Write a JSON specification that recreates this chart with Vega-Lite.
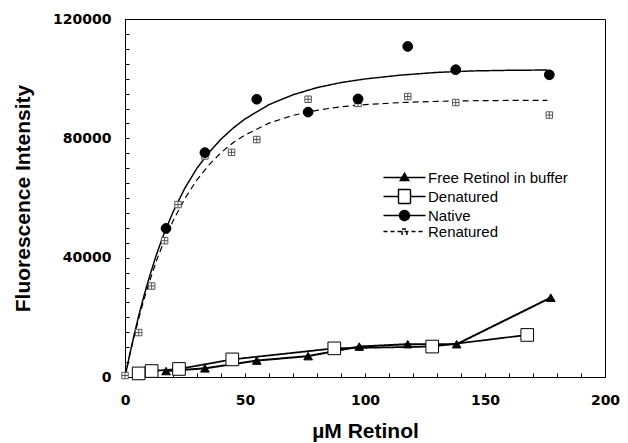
{
  "$schema": "https://vega.github.io/schema/vega-lite/v6.json",
  "width": 480,
  "height": 358,
  "autosize": "none",
  "padding": {"left": 125, "top": 19, "right": 23, "bottom": 66},
  "background": "white",
  "config": {
    "font": "Liberation Sans",
    "view": {"stroke": "black", "strokeWidth": 1},
    "axis": {"domainColor": "black", "tickColor": "black", "labelColor": "black", "titleColor": "black", "grid": false}
  },
  "datasets": {
    "d": [
      {"s": "Native", "role": "pt", "x": 17.1, "y": 49800},
      {"s": "Native", "role": "pt", "x": 33.3, "y": 75200},
      {"s": "Native", "role": "pt", "x": 54.9, "y": 93100},
      {"s": "Native", "role": "pt", "x": 76.3, "y": 88800},
      {"s": "Native", "role": "pt", "x": 97.1, "y": 93200},
      {"s": "Native", "role": "pt", "x": 117.8, "y": 110800},
      {"s": "Native", "role": "pt", "x": 137.8, "y": 103000},
      {"s": "Native", "role": "pt", "x": 176.8, "y": 101300},
      {"s": "Renatured", "role": "pt", "x": 0, "y": 500},
      {"s": "Renatured", "role": "pt", "x": 5.7, "y": 14900},
      {"s": "Renatured", "role": "pt", "x": 11.1, "y": 30500},
      {"s": "Renatured", "role": "pt", "x": 16.5, "y": 45700},
      {"s": "Renatured", "role": "pt", "x": 22.1, "y": 57800},
      {"s": "Renatured", "role": "pt", "x": 33.3, "y": 74100},
      {"s": "Renatured", "role": "pt", "x": 44.4, "y": 75300},
      {"s": "Renatured", "role": "pt", "x": 54.9, "y": 79600},
      {"s": "Renatured", "role": "pt", "x": 76.3, "y": 93100},
      {"s": "Renatured", "role": "pt", "x": 97.1, "y": 91700},
      {"s": "Renatured", "role": "pt", "x": 117.8, "y": 94000},
      {"s": "Renatured", "role": "pt", "x": 137.8, "y": 92000},
      {"s": "Renatured", "role": "pt", "x": 176.8, "y": 87800},
      {"s": "Free Retinol in buffer", "role": "both", "x": 17.1, "y": 2000},
      {"s": "Free Retinol in buffer", "role": "both", "x": 33.3, "y": 2900},
      {"s": "Free Retinol in buffer", "role": "both", "x": 54.9, "y": 5500},
      {"s": "Free Retinol in buffer", "role": "both", "x": 76.3, "y": 7000},
      {"s": "Free Retinol in buffer", "role": "both", "x": 97.6, "y": 10200},
      {"s": "Free Retinol in buffer", "role": "both", "x": 117.8, "y": 11000},
      {"s": "Free Retinol in buffer", "role": "both", "x": 138.2, "y": 11000},
      {"s": "Free Retinol in buffer", "role": "both", "x": 177.4, "y": 26600},
      {"s": "Denatured", "role": "both", "x": 5.7, "y": 1200},
      {"s": "Denatured", "role": "both", "x": 11.1, "y": 2000},
      {"s": "Denatured", "role": "both", "x": 22.5, "y": 2700},
      {"s": "Denatured", "role": "both", "x": 44.7, "y": 5900},
      {"s": "Denatured", "role": "both", "x": 87.2, "y": 9600},
      {"s": "Denatured", "role": "both", "x": 128, "y": 10200},
      {"s": "Denatured", "role": "both", "x": 167.6, "y": 14100},
      {"s": "Native", "role": "line", "x": 0, "y": 0},
      {"s": "Native", "role": "line", "x": 2, "y": 7700},
      {"s": "Native", "role": "line", "x": 4, "y": 14800},
      {"s": "Native", "role": "line", "x": 6, "y": 21400},
      {"s": "Native", "role": "line", "x": 8, "y": 27500},
      {"s": "Native", "role": "line", "x": 10, "y": 33100},
      {"s": "Native", "role": "line", "x": 13, "y": 40800},
      {"s": "Native", "role": "line", "x": 16, "y": 47500},
      {"s": "Native", "role": "line", "x": 20, "y": 55300},
      {"s": "Native", "role": "line", "x": 25, "y": 63400},
      {"s": "Native", "role": "line", "x": 30, "y": 70000},
      {"s": "Native", "role": "line", "x": 35, "y": 75300},
      {"s": "Native", "role": "line", "x": 40, "y": 79700},
      {"s": "Native", "role": "line", "x": 45, "y": 83400},
      {"s": "Native", "role": "line", "x": 50, "y": 86500},
      {"s": "Native", "role": "line", "x": 60, "y": 91300},
      {"s": "Native", "role": "line", "x": 70, "y": 94600},
      {"s": "Native", "role": "line", "x": 80, "y": 97000},
      {"s": "Native", "role": "line", "x": 90, "y": 98700},
      {"s": "Native", "role": "line", "x": 100, "y": 99900},
      {"s": "Native", "role": "line", "x": 115, "y": 101200},
      {"s": "Native", "role": "line", "x": 130, "y": 102100},
      {"s": "Native", "role": "line", "x": 145, "y": 102600},
      {"s": "Native", "role": "line", "x": 160, "y": 102800},
      {"s": "Native", "role": "line", "x": 176, "y": 102900},
      {"s": "Renatured", "role": "line", "x": 0, "y": 0},
      {"s": "Renatured", "role": "line", "x": 2, "y": 7400},
      {"s": "Renatured", "role": "line", "x": 4, "y": 14200},
      {"s": "Renatured", "role": "line", "x": 6, "y": 20400},
      {"s": "Renatured", "role": "line", "x": 8, "y": 26200},
      {"s": "Renatured", "role": "line", "x": 10, "y": 31500},
      {"s": "Renatured", "role": "line", "x": 13, "y": 38700},
      {"s": "Renatured", "role": "line", "x": 16, "y": 45000},
      {"s": "Renatured", "role": "line", "x": 20, "y": 52300},
      {"s": "Renatured", "role": "line", "x": 25, "y": 59900},
      {"s": "Renatured", "role": "line", "x": 30, "y": 66100},
      {"s": "Renatured", "role": "line", "x": 35, "y": 71100},
      {"s": "Renatured", "role": "line", "x": 40, "y": 75200},
      {"s": "Renatured", "role": "line", "x": 45, "y": 78500},
      {"s": "Renatured", "role": "line", "x": 50, "y": 81100},
      {"s": "Renatured", "role": "line", "x": 60, "y": 85100},
      {"s": "Renatured", "role": "line", "x": 70, "y": 87700},
      {"s": "Renatured", "role": "line", "x": 80, "y": 89400},
      {"s": "Renatured", "role": "line", "x": 90, "y": 90600},
      {"s": "Renatured", "role": "line", "x": 100, "y": 91300},
      {"s": "Renatured", "role": "line", "x": 115, "y": 92000},
      {"s": "Renatured", "role": "line", "x": 130, "y": 92400},
      {"s": "Renatured", "role": "line", "x": 145, "y": 92600},
      {"s": "Renatured", "role": "line", "x": 160, "y": 92700},
      {"s": "Renatured", "role": "line", "x": 176, "y": 92700}
    ],
    "legend": [
      {"s": "Free Retinol in buffer"},
      {"s": "Denatured"},
      {"s": "Native"},
      {"s": "Renatured"}
    ]
  },
  "encoding": {
    "x": {"field": "x", "type": "quantitative", "scale": {"domain": [0, 200], "nice": false},
      "axis": {"values": [0,10,20,30,40,50,60,70,80,90,100,110,120,130,140,150,160,170,180,190,200],
        "labelExpr": "datum.value % 50 === 0 ? datum.label : ''",
        "tickSize": -4, "labelPadding": 20, "labelFont": "DejaVu Sans", "labelFontWeight": "bold", "labelFontSize": 14,
        "labelFlush": false, "labelOverlap": false,
        "title": "µM Retinol", "titleFont": "Liberation Sans", "titleFontWeight": "bold", "titleFontSize": 21, "titlePadding": 13}},
    "y": {"field": "y", "type": "quantitative", "scale": {"domain": [0, 120000], "nice": false},
      "axis": {"values": [0,5000,10000,15000,20000,25000,30000,35000,40000,45000,50000,55000,60000,65000,70000,75000,80000,85000,90000,95000,100000,105000,110000,115000,120000],
        "format": "d",
        "labelExpr": "datum.value % 40000 === 0 ? datum.label : ''",
        "tickSize": -4, "labelPadding": 18, "labelFont": "DejaVu Sans", "labelFontWeight": "bold", "labelFontSize": 14,
        "labelFlush": false, "labelOverlap": false,
        "title": "Fluorescence Intensity", "titleFont": "Liberation Sans", "titleFontWeight": "bold", "titleFontSize": 21, "titlePadding": 19}}
  },
  "resolve": {"scale": {"shape": "independent", "fill": "independent", "stroke": "independent", "strokeDash": "independent", "strokeWidth": "independent"}},
  "layer": [
    {
      "data": {"name": "d"},
      "transform": [{"filter": {"field": "role", "oneOf": ["line", "both"]}}],
      "mark": {"type": "line", "color": "black"},
      "encoding": {
        "detail": {"field": "s"},
        "strokeDash": {"field": "s", "type": "nominal", "legend": null,
          "scale": {"domain": ["Free Retinol in buffer", "Denatured", "Native", "Renatured"], "range": [[1,0],[1,0],[1,0],[6,4]]}},
        "strokeWidth": {"field": "s", "type": "nominal", "legend": null,
          "scale": {"domain": ["Free Retinol in buffer", "Denatured", "Native", "Renatured"], "range": [2, 1.2, 1.6, 1.6]}}
      }
    },
    {
      "data": {"name": "d"},
      "transform": [{"filter": "datum.s === 'Renatured' && datum.role === 'pt'"}],
      "mark": {"type": "point", "shape": "M-1,-1H1V1H-1ZM0,-1V1M-1,0H1", "size": 42, "stroke": "#555555", "strokeWidth": 1, "fill": "white", "opacity": 1}
    },
    {
      "data": {"name": "d"},
      "transform": [{"filter": "datum.s === 'Denatured'"}],
      "mark": {"type": "point", "shape": "square", "size": 160, "stroke": "black", "strokeWidth": 1, "fill": "white", "opacity": 1}
    },
    {
      "data": {"name": "d"},
      "transform": [{"filter": "datum.s === 'Free Retinol in buffer'"}],
      "mark": {"type": "point", "shape": "triangle-up", "size": 75, "stroke": "black", "strokeWidth": 1, "fill": "black", "opacity": 1}
    },
    {
      "data": {"name": "d"},
      "transform": [{"filter": "datum.s === 'Native' && datum.role === 'pt'"}],
      "mark": {"type": "point", "shape": "circle", "size": 95, "stroke": "black", "strokeWidth": 1, "fill": "black", "opacity": 1}
    },
    {
      "data": {"name": "legend"},
      "mark": {"type": "point", "strokeWidth": 1.4, "size": 0},
      "encoding": {
        "shape": {"field": "s", "type": "nominal",
          "scale": {"domain": ["Free Retinol in buffer", "Denatured", "Native", "Renatured"],
            "range": ["M-4.2,0H4.2M0,-0.85L0.85,0.6H-0.85Z", "M-4.2,0H-1.2M1.2,0H4.2M-1.2,-1.4H1.2V1.4H-1.2Z", "M-4.2,0H4.2M1,0A1,1 0 1,1 -1,0A1,1 0 1,1 1,0Z", "M-4.2,0H4.2M-0.5,-0.5H0.5V0.5H-0.5Z"]},
          "legend": {"title": null, "orient": "none", "legendX": 272, "legendY": 151, "padding": 0,
            "symbolSize": 100, "symbolStrokeColor": "black", "symbolStrokeWidth": 1.4, "symbolOpacity": 1, "labelOffset": 16,
            "labelFont": "Liberation Sans", "labelFontSize": 15, "labelColor": "black", "rowPadding": 0,
            "encode": {"symbols": {"update": {"stroke": {"value": "black"}, "strokeWidth": {"value": 1.4}}}}}},
        "fill": {"field": "s", "type": "nominal",
          "scale": {"domain": ["Free Retinol in buffer", "Denatured", "Native", "Renatured"], "range": ["black", "white", "black", "white"]},
          "legend": {"title": null, "orient": "none", "legendX": 272, "legendY": 151}},
        "stroke": {"field": "s", "type": "nominal",
          "scale": {"domain": ["Free Retinol in buffer", "Denatured", "Native", "Renatured"], "range": ["black", "black", "black", "black"]},
          "legend": {"title": null, "orient": "none", "legendX": 272, "legendY": 151}},
        "strokeDash": {"field": "s", "type": "nominal",
          "scale": {"domain": ["Free Retinol in buffer", "Denatured", "Native", "Renatured"], "range": [[1,0],[1,0],[1,0],[4,3]]},
          "legend": {"title": null, "orient": "none", "legendX": 272, "legendY": 151}}
      }
    }
  ]
}
